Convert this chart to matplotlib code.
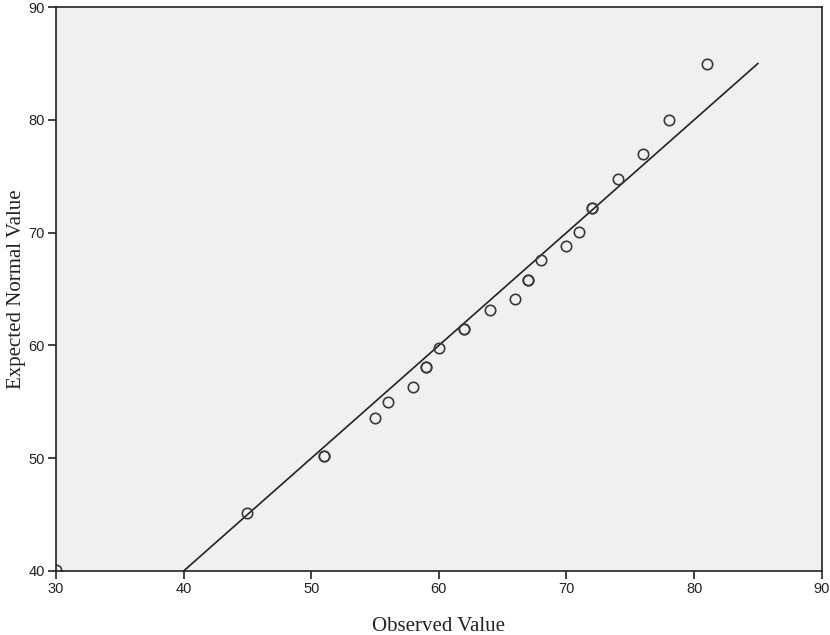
from matplotlib import pyplot as plt
import numpy as np

# observed values and their expected normal values (repeated values appear twice)
observed = [30, 45, 51, 51, 55, 56, 58, 59, 59, 60, 62, 62, 64, 66, 67, 67,
            68, 70, 71, 72, 72, 74, 76, 78, 81]
expected = [40.1, 45.1, 50.2, 50.2, 53.6, 55.0, 56.3, 58.1, 58.1, 59.8, 61.5,
            61.5, 63.1, 64.1, 65.8, 65.8, 67.6, 68.8, 70.1, 72.2, 72.2, 74.8,
            77.0, 80.0, 85.0]
line_x = [40, 85]
line_y = [40, 85]

x_ticks = [30, 40, 50, 60, 70, 80, 90]
y_ticks = [40, 50, 60, 70, 80, 90]

fig = plt.figure(figsize=(8.3, 6.35), dpi=100)
ax = fig.add_axes([0.0675, 0.1008, 0.9225, 0.888])
ax.set_facecolor('#f0f0f0')

ax.plot(line_x, line_y, color='#222222', linewidth=1.2)
ax.plot(observed, expected, linestyle='none', marker='o', markersize=7.5,
        markerfacecolor='none', markeredgecolor='#3a3a3a', markeredgewidth=1.2)

ax.set_xlim(30, 90)
ax.set_ylim(40, 90)
ax.set_xticks(x_ticks)
ax.set_yticks(y_ticks)
ax.tick_params(direction='out', length=6, width=1.2, color='#222222',
               labelsize=10.5, labelcolor='#222222', pad=2)
for lbl in ax.get_xticklabels() + ax.get_yticklabels():
    lbl.set_family('Liberation Sans')

for side in ax.spines.values():
    side.set_color('#222222')
    side.set_linewidth(1.2)

ax.set_xlabel('Observed Value', family='Liberation Serif', fontsize=15,
              color='#222222', labelpad=15)
ax.set_ylabel('Expected Normal Value', family='Liberation Serif', fontsize=15,
              color='#222222', labelpad=2)

plt.savefig('out.png', dpi=100)
plt.close(fig)
